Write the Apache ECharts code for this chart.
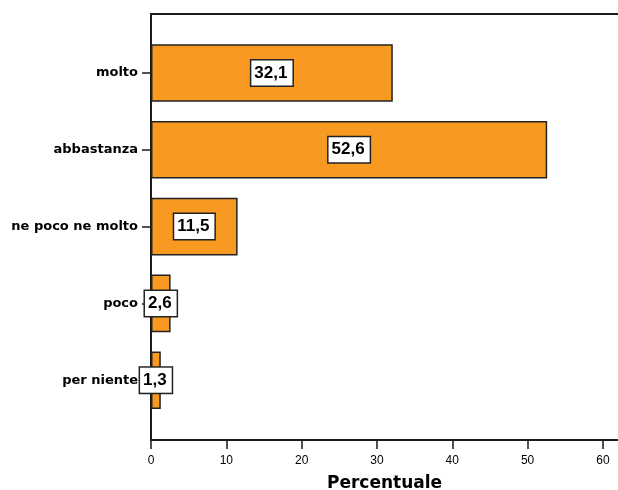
<!DOCTYPE html>
<html><head><meta charset="utf-8">
<script src="https://cdn.jsdelivr.net/npm/echarts@6/dist/echarts.min.js"></script>
<style>html,body{margin:0;padding:0;background:#fff}#c{width:618px;height:490px}</style>
</head><body><div id="c"></div>
<script>
const categories = ['molto', 'abbastanza', 'ne poco ne molto', 'poco', 'per niente'];
const values = [32.1, 52.6, 11.5, 2.6, 1.3];
const xTicks = [0, 10, 20, 30, 40, 50, 60];

const chart = echarts.init(document.getElementById('c'), null, {renderer: 'canvas'});
const lineCol = '#1a1a1a';
const fmt = v => String(v).replace('.', ',');
chart.setOption({
  animation: false,
  backgroundColor: '#fff',
  grid: [
    {left: 151, right: 0, top: 14, height: 426, outerBoundsMode: 'none', containLabel: false},
    {left: 151, right: 0, top: 34.6, height: 384, outerBoundsMode: 'none', containLabel: false}
  ],
  xAxis: [
    {gridIndex: 0, type: 'value', min: 0, max: 62, interval: 10, position: 'bottom',
     axisLine: {show: true, lineStyle: {color: lineCol, width: 2}},
     axisTick: {show: true, length: 9, lineStyle: {color: lineCol, width: 1.5}, customValues: xTicks},
     axisLabel: {color: '#000', fontFamily: 'Liberation Sans, Arial', fontSize: 12, margin: 15, customValues: xTicks, formatter: v => String(v)},
     splitLine: {show: false},
     name: 'Percentuale', nameLocation: 'middle', nameGap: 35,
     nameTextStyle: {color: '#000', fontFamily: 'DejaVu Sans', fontSize: 17, fontWeight: 'bold'}},
    {gridIndex: 0, type: 'value', min: 0, max: 62, position: 'top',
     axisLine: {show: true, lineStyle: {color: lineCol, width: 2}},
     axisTick: {show: false}, axisLabel: {show: false}, splitLine: {show: false}},
    {gridIndex: 1, type: 'value', min: 0, max: 62, show: false}
  ],
  yAxis: [
    {gridIndex: 0, type: 'value', min: 0, max: 1, position: 'left',
     axisLine: {show: true, lineStyle: {color: lineCol, width: 2}},
     axisTick: {show: false}, axisLabel: {show: false}, splitLine: {show: false}},
    {gridIndex: 1, type: 'category', data: categories, inverse: true,
     axisLine: {show: false},
     axisTick: {show: true, alignWithLabel: true, length: 9, lineStyle: {color: lineCol, width: 1.5}},
     axisLabel: {color: '#000', fontFamily: 'DejaVu Sans', fontSize: 13, fontWeight: 'bold', margin: 13}}
  ],
  series: [{
    type: 'bar', xAxisIndex: 2, yAxisIndex: 1,
    data: values,
    barCategoryGap: '25%',
    itemStyle: {color: '#F89A21', borderColor: '#222', borderWidth: 1.5},
    label: {show: true, position: 'inside', formatter: p => fmt(p.value),
      color: '#000', fontFamily: 'Liberation Sans, Arial', fontSize: 17, fontWeight: 'bold', lineHeight: 17,
      backgroundColor: '#fff', borderColor: '#222', borderWidth: 1.5, padding: [3, 5, 5, 3]}
  }]
});
</script></body></html>
